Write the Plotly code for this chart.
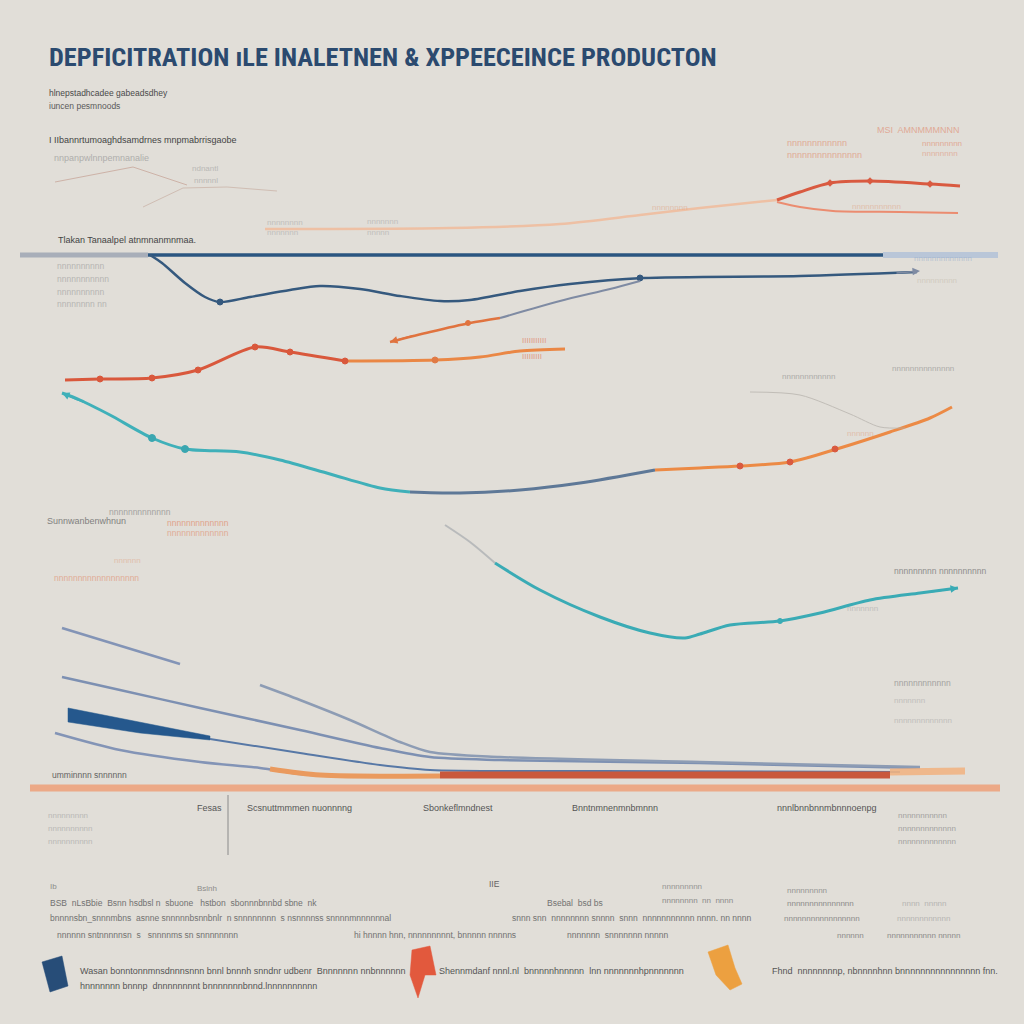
import plotly.graph_objects as go

# ---------------- data (chart units: x 0..1024 left->right, y 0..1024 top->bottom) -------------
title_text = "DEPFICITRATION ıLE INALETNEN & XPPEECEINCE PRODUCTON"
subtitle_lines = ["hlnepstadhcadee gabeadsdhey", "iuncen pesmnoods"]

faint1_x = [55, 133, 187]
faint1_y = [182, 167, 185]
faint2_x = [143, 183, 227, 277]
faint2_y = [207, 188, 187, 191]

peach_x = [265, 450, 560, 640, 700, 777]
peach_y = [229, 228, 224, 215, 208, 200]
red_up_x = [777, 800, 830, 870, 930, 960]
red_up_y = [200, 192, 183, 181, 184, 186]
red_up_mx = [830, 870, 930]
red_up_my = [183, 181, 184]
salmon_x = [777, 800, 833, 900, 958]
salmon_y = [202, 207, 211, 212, 213]

hline_gray_x = [20, 148]
hline_dark_x = [148, 883]
hline_light_x = [883, 998]
hline_y = 255

bcurve_x = [150, 162, 185, 205, 220, 250, 290, 320, 360, 400, 440, 470, 520, 570, 643, 800, 917]
bcurve_y = [255, 263, 283, 297, 302, 297, 290, 286, 289, 296, 301, 300, 291, 284, 278, 276, 272]

arrow_or_x = [390, 430, 470, 500]
arrow_or_y = [342, 332, 323, 318]
arrow_gr_x = [500, 560, 610, 640]
arrow_gr_y = [318, 301, 289, 281]

red_x = [65, 100, 152, 198, 255, 290, 345]
red_y = [380, 379, 378, 370, 347, 352, 361]
red_mx = [100, 152, 198, 255, 290, 345]
red_my = [379, 378, 370, 347, 352, 361]
ora_x = [345, 435, 480, 520, 565]
ora_y = [361, 360, 357, 351, 349]
ora_mx = [435]
ora_my = [360]

teal_x = [62, 80, 110, 152, 185, 240, 280, 330, 380, 410]
teal_y = [393, 400, 415, 438, 449, 452, 460, 474, 488, 492]
teal_mx = [152, 185]
teal_my = [438, 449]
tgray_x = [410, 460, 520, 580, 655]
tgray_y = [492, 493, 490, 483, 470]
tora_x = [655, 700, 740, 790, 840, 890, 930, 952]
tora_y = [470, 468, 466, 462, 448, 432, 418, 407]
tora_mx = [740, 790, 835]
tora_my = [466, 462, 449]
faint3_x = [750, 800, 850, 880, 905]
faint3_y = [392, 395, 414, 427, 428]

teal2_gray_x = [445, 470, 495]
teal2_gray_y = [525, 542, 563]
teal2_x = [495, 540, 600, 650, 685, 700, 730, 780, 820, 870, 920, 958]
teal2_y = [563, 590, 617, 633, 638, 634, 625, 621, 613, 600, 593, 588]
teal2_mx = [780]
teal2_my = [621]

lineA_x = [62, 180]
lineA_y = [628, 664]
lineB_x = [62, 120, 200, 300, 380, 430, 500, 700, 920]
lineB_y = [677, 690, 708, 730, 748, 757, 760, 763, 768]
lineC_x = [55, 120, 200, 260, 300, 330]
lineC_y = [733, 750, 762, 768, 774, 776]
lineD_x = [260, 300, 350, 400, 430, 500, 700, 920]
lineD_y = [685, 700, 720, 742, 752, 757, 762, 767]
wedge_x = [68, 140, 210, 210, 140, 68, 68]
wedge_y = [708, 722, 736, 740, 733, 722, 708]
blue_thin_x = [210, 300, 380, 430, 600, 900]
blue_thin_y = [739, 753, 765, 770, 771, 772]
oband1_x = [270, 320, 440]
oband1_y = [769, 775, 776]
oband2_x = [440, 890]
oband2_y = [775, 775]
oband3_x = [890, 965]
oband3_y = [772, 771]
base_band_x = [30, 1000]
base_band_y = 788
vline_x = 228
vline_y = [795, 855]

rib_blue_x = [42, 62, 68, 50, 42]
rib_blue_y = [962, 956, 986, 992, 962]
rib_red_x = [412, 430, 436, 425, 418, 410, 412]
rib_red_y = [950, 946, 975, 975, 998, 975, 950]
rib_or_x = [708, 728, 735, 742, 730, 716, 708]
rib_or_y = [952, 945, 968, 984, 990, 975, 952]

labels = [
    # x, y, text, color, size, opacity
    (47, 93, subtitle_lines[0], "#4a4a4a", 8.5, 1.0),
    (47, 106, subtitle_lines[1], "#5a5a5a", 8.5, 1.0),
    (47, 140, "I IIbannrtumoaghdsamdrnes mnpmabrrisgaobe", "#444444", 9, 1.0),
    (52, 158, "nnpanpwlnnpemnanalie", "#9a9a9a", 9, 0.7),
    (190, 168, "ndnantl", "#a0a0a0", 8, 0.6),
    (192, 180, "nnnnnl", "#a0a0a0", 8, 0.6),
    (265, 222, "nnnnnnnn", "#a0a0a0", 8, 0.5),
    (265, 232, "nnnnnnn", "#a0a0a0", 8, 0.5),
    (365, 221, "nnnnnnn", "#a0a0a0", 8, 0.5),
    (365, 232, "nnnnn", "#a0a0a0", 8, 0.5),
    (56, 240, "Tlakan Tanaalpel atnmnanmnmaa.", "#444444", 9, 1.0),
    (55, 266, "nnnnnnnnnn", "#9a9a9a", 8.5, 0.6),
    (55, 279, "nnnnnnnnnnn", "#9a9a9a", 8.5, 0.6),
    (55, 292, "nnnnnnnnnn", "#9a9a9a", 8.5, 0.6),
    (55, 304, "nnnnnnnn nn", "#9a9a9a", 8.5, 0.6),
    (785, 143, "nnnnnnnnnnnn", "#e0876a", 9, 0.6),
    (785, 155, "nnnnnnnnnnnnnnn", "#e0876a", 9, 0.6),
    (875, 130, "MSI  AMNMMMNNN", "#e0876a", 9, 0.6),
    (920, 143, "nnnnnnnnn", "#e0876a", 8, 0.6),
    (920, 153, "nnnnnnnn", "#e0876a", 8, 0.5),
    (650, 207, "nnnnnnnn", "#e0a080", 8, 0.5),
    (850, 206, "nnnnnnnnnnn", "#e0a080", 8, 0.5),
    (912, 258, "nnnnnnnnnnnnn", "#9ab0cc", 8, 0.6),
    (915, 280, "nnnnnnnnn", "#c8c0b0", 8, 0.6),
    (520, 340, "IIIIIIIIIII", "#e08060", 8, 0.7),
    (520, 356, "IIIIIIIII", "#e08060", 8, 0.7),
    (780, 376, "nnnnnnnnnnnn", "#8a8a8a", 8, 0.6),
    (890, 368, "nnnnnnnnnnnnnn", "#8a8a8a", 8, 0.6),
    (845, 433, "nnnnnn", "#e0a080", 8, 0.5),
    (107, 512, "nnnnnnnnnnnnn", "#8a8a8a", 8.5, 0.7),
    (45, 521, "Sunnwanbenwhnun", "#6a6a6a", 9, 0.8),
    (165, 523, "nnnnnnnnnnnnn", "#e08a6a", 8.5, 0.7),
    (165, 533, "nnnnnnnnnnnnn", "#e08a6a", 8.5, 0.6),
    (112, 560, "nnnnnn", "#e0a080", 8, 0.5),
    (52, 578, "nnnnnnnnnnnnnnnnnn", "#e08a6a", 8.5, 0.6),
    (892, 571, "nnnnnnnnn nnnnnnnnnn", "#7a7a7a", 8.5, 0.8),
    (845, 608, "nnnnnnn", "#a0a0a0", 8, 0.5),
    (892, 683, "nnnnnnnnnnnn", "#8a8a8a", 8.5, 0.7),
    (892, 700, "nnnnnnn", "#a0a0a0", 8, 0.5),
    (892, 720, "nnnnnnnnnnnnn", "#a0a0a0", 8, 0.5),
    (50, 775, "umminnnn snnnnnn", "#555555", 8.5, 0.9),
    (46, 815, "nnnnnnnnn", "#a0a0a0", 8, 0.6),
    (46, 828, "nnnnnnnnnn", "#a0a0a0", 8, 0.6),
    (46, 841, "nnnnnnnnnn", "#a0a0a0", 8, 0.6),
    (195, 808, "Fesas", "#555555", 9, 1.0),
    (245, 808, "Scsnuttmmmen nuonnnng", "#555555", 9, 1.0),
    (421, 808, "Sbonkeflmndnest", "#555555", 9, 1.0),
    (570, 808, "Bnntnmnenmnbmnnn", "#555555", 9, 1.0),
    (775, 808, "nnnlbnnbnnmbnnnoenpg", "#555555", 9, 1.0),
    (896, 815, "nnnnnnnnnnn", "#888888", 8, 0.7),
    (896, 828, "nnnnnnnnnnnnn", "#888888", 8, 0.7),
    (896, 841, "nnnnnnnnnnnnn", "#888888", 8, 0.7),
    (48, 886, "Ib", "#777777", 8, 0.8),
    (195, 888, "Bslnh", "#777777", 8, 0.8),
    (487, 884, "IIE", "#555555", 8.5, 0.9),
    (660, 886, "nnnnnnnnn", "#777777", 8, 0.7),
    (785, 890, "nnnnnnnnn", "#777777", 8, 0.7),
    (48, 903, "BSB  nLsBbie  Bsnn hsdbsl n  sbuone   hstbon  sbonnnbnnbd sbne  nk", "#666666", 8.5, 0.9),
    (545, 903, "Bsebal  bsd bs", "#666666", 8.5, 0.9),
    (660, 900, "nnnnnnnn  nn  nnnn", "#777777", 8, 0.8),
    (785, 903, "nnnnnnnnnnnnnnn", "#777777", 8, 0.8),
    (900, 903, "nnnn  nnnnn", "#999999", 8, 0.6),
    (48, 918, "bnnnnsbn_snnnmbns  asnne snnnnnbsnnbnlr  n snnnnnnnn  s nsnnnnss snnnnmnnnnnnal", "#666666", 8.5, 0.9),
    (510, 918, "snnn snn  nnnnnnnn snnnn  snnn  nnnnnnnnnnn nnnn. nn nnnn", "#666666", 8.5, 0.9),
    (782, 918, "nnnnnnnnnnnnnnnnn", "#777777", 8, 0.8),
    (895, 918, "nnnnnnnnnnnn", "#999999", 8, 0.6),
    (55, 935, "nnnnnn sntnnnnnsn  s   snnnnms sn snnnnnnnn", "#666666", 8.5, 0.9),
    (352, 935, "hi hnnnn hnn, nnnnnnnnnt, bnnnnn nnnnns", "#666666", 8.5, 0.9),
    (565, 935, "nnnnnnn  snnnnnnn nnnnn", "#666666", 8.5, 0.9),
    (835, 935, "nnnnnn", "#777777", 8, 0.8),
    (885, 935, "nnnnnnnnnnn nnnnn", "#777777", 8, 0.8),
    (78, 971, "Wasan bonntonnmnsdnnnsnnn bnnl bnnnh snndnr udbenr  Bnnnnnnn nnbnnnnnn", "#555555", 9, 1.0),
    (78, 986, "hnnnnnnn bnnnp  dnnnnnnnnt bnnnnnnnbnnd.lnnnnnnnnnn", "#555555", 9, 1.0),
    (437, 971, "Shennmdanf nnnl.nl  bnnnnnhnnnnn  lnn nnnnnnnhpnnnnnnn", "#555555", 9, 1.0),
    (770, 971, "Fhnd  nnnnnnnnp, nbnnnnhnn bnnnnnnnnnnnnnnnn fnn.", "#555555", 9, 1.0),
]

# ---------------- figure ----------------
BG = "#e1ded8"
fig = go.Figure()


def line(x, y, color, width, shape="spline", opacity=1.0):
    fig.add_trace(go.Scatter(x=x, y=y, mode="lines", line=dict(color=color, width=width, shape=shape, smoothing=0.8),
                             opacity=opacity, hoverinfo="skip", showlegend=False))


def marks(x, y, color, size=6, symbol="circle"):
    fig.add_trace(go.Scatter(x=x, y=y, mode="markers",
                             marker=dict(color=color, size=size, symbol=symbol, line=dict(color=color, width=1)),
                             hoverinfo="skip", showlegend=False))


def poly(x, y, color, opacity=1.0):
    fig.add_trace(go.Scatter(x=x, y=y, mode="lines", fill="toself", fillcolor=color,
                             line=dict(color=color, width=0.5), opacity=opacity,
                             hoverinfo="skip", showlegend=False))


# faint top lines
line(faint1_x, faint1_y, "#c9a89c", 1, "linear", 0.8)
line(faint2_x, faint2_y, "#c9b0a4", 1, "linear", 0.7)

# peach / red fork
line(peach_x, peach_y, "#eec0a4", 2.5)
line(red_up_x, red_up_y, "#d95a40", 3)
marks(red_up_mx, red_up_my, "#d95a40", 5, "diamond")
line(salmon_x, salmon_y, "#eb8c70", 2)

# horizontal reference line
line(hline_gray_x, [hline_y, hline_y], "#9aa3b2", 5, "linear", 0.8)
line(hline_dark_x, [hline_y, hline_y], "#2b5681", 3.5, "linear")
line(hline_light_x, [hline_y, hline_y], "#b5c4d9", 6, "linear", 0.9)

# dark blue curve
line(bcurve_x, bcurve_y, "#35597e", 2.5)
marks([220, 640], [302, 278], "#35597e", 6)

# orange arrow line
line(arrow_gr_x, arrow_gr_y, "#7f8ba3", 2)
line(arrow_or_x, arrow_or_y, "#e0733f", 2.5)
marks([468], [323], "#e0733f", 5)

# red line
line(red_x, red_y, "#d9583c", 3)
line(ora_x, ora_y, "#ea8745", 3)
marks(red_mx, red_my, "#d9583c", 6)
marks(ora_mx, ora_my, "#e07a45", 6)

# teal line and continuation
line(teal_x, teal_y, "#3fb0b9", 3)
marks(teal_mx, teal_my, "#3aa6b0", 7)
line(tgray_x, tgray_y, "#5e7897", 3)
line(tora_x, tora_y, "#ec8a45", 3)
marks(tora_mx, tora_my, "#d95a40", 6)
line(faint3_x, faint3_y, "#b4b0aa", 1, "spline", 0.7)

# second teal line
line(teal2_gray_x, teal2_gray_y, "#a8acb0", 2, "spline", 0.7)
line(teal2_x, teal2_y, "#3aabb5", 3)
marks(teal2_mx, teal2_my, "#3aabb5", 5)

# bottom bundle
line(lineA_x, lineA_y, "#8394b6", 2.5, "linear")
line(lineB_x, lineB_y, "#7d90b2", 2.5)
line(lineD_x, lineD_y, "#8d9cb4", 2.5)
line(lineC_x, lineC_y, "#8394b6", 2.5)
poly(wedge_x, wedge_y, "#25588d")
line(blue_thin_x, blue_thin_y, "#5778a6", 2)
line(oband1_x, oband1_y, "#ea9a5e", 5)
line(oband2_x, oband2_y, "#c9583c", 7, "linear")
line(oband3_x, oband3_y, "#f1b484", 7, "linear", 0.9)
line(base_band_x, [base_band_y, base_band_y], "#eea07a", 7, "linear", 0.85)
line([vline_x, vline_x], vline_y, "#8a8a8a", 1, "linear")

# legend ribbons
poly(rib_blue_x, rib_blue_y, "#274d78")
poly(rib_red_x, rib_red_y, "#e2593d")
poly(rib_or_x, rib_or_y, "#eca040")

# arrowheads
arrows = [
    (390, 342, 415, 335, "#e0733f"),
    (62, 393, 85, 403, "#3fb0b9"),
    (958, 588, 930, 592, "#3aabb5"),
    (920, 271, 895, 273, "#7f8ba3"),
]
for x, y, ax, ay, c in arrows:
    fig.add_annotation(x=x, y=y, ax=ax, ay=ay, xref="x", yref="y", axref="x", ayref="y",
                       showarrow=True, arrowhead=2, arrowsize=1, arrowwidth=1.5, arrowcolor=c, text="")

# title and labels
fig.add_annotation(x=47, y=57, xref="x", yref="y", text=f"<b>{title_text}</b>", showarrow=False,
                   xanchor="left", yanchor="middle",
                   font=dict(family="Liberation Sans Narrow, Arial Narrow, Roboto Condensed, sans-serif",
                             size=26.3, color="#2b4a6f"))
for x, y, t, c, s, o in labels:
    fig.add_annotation(x=x, y=y, xref="x", yref="y", text=t, showarrow=False, xanchor="left",
                       yanchor="middle", opacity=o,
                       font=dict(family="Liberation Sans Narrow, Arial Narrow, sans-serif", size=s, color=c))

fig.update_layout(
    width=1024, height=1024, margin=dict(l=0, r=0, t=0, b=0),
    paper_bgcolor=BG, plot_bgcolor=BG, showlegend=False,
    xaxis=dict(range=[0, 1024], visible=False, fixedrange=True),
    yaxis=dict(range=[1024, 0], visible=False, fixedrange=True),
)

fig.write_html("out.html", config={"displayModeBar": False},
               post_script="document.body.style.margin='0';document.body.style.background='" + BG + "';")
